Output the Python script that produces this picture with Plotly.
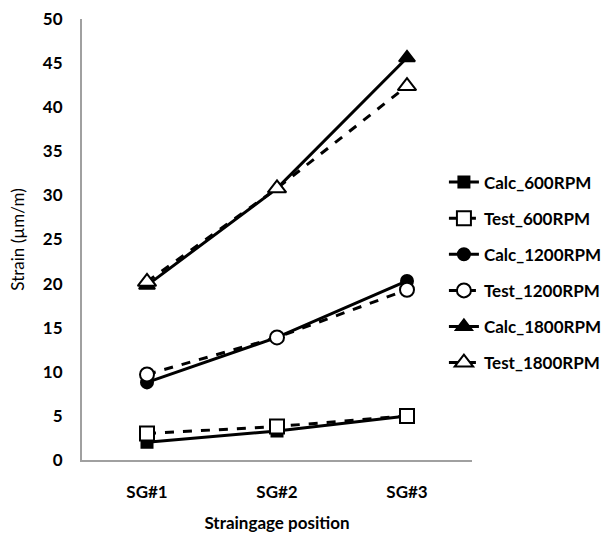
import plotly.graph_objects as go

categories = ["SG#1", "SG#2", "SG#3"]
calc_600 = [2.0, 3.3, 5.0]
test_600 = [3.0, 3.8, 5.0]
calc_1200 = [8.8, 13.9, 20.3]
test_1200 = [9.7, 13.9, 19.3]
calc_1800 = [19.8, 30.8, 45.6]
test_1800 = [20.2, 30.8, 42.4]
y_ticks = [0, 5, 10, 15, 20, 25, 30, 35, 40, 45, 50]

series = [
    ("Calc_600RPM", calc_600, "square", "black", "solid", 11),
    ("Test_600RPM", test_600, "square", "white", "dash", 14),
    ("Calc_1200RPM", calc_1200, "circle", "black", "solid", 12),
    ("Test_1200RPM", test_1200, "circle", "white", "dash", 14),
    ("Calc_1800RPM", calc_1800, "triangle-up", "black", "solid", 14),
    ("Test_1800RPM", test_1800, "triangle-up", "white", "dash", 16),
]

FONT = "Lato"
fig = go.Figure()
for i, (name, vals, sym, fill, dash, size) in enumerate(series):
    fig.add_trace(go.Scatter(
        x=categories, y=vals, name=name, mode="lines+markers",
        line=dict(color="black", width=3, dash=dash),
        marker=dict(symbol=sym, size=size, color=fill,
                    line=dict(color="black", width=2)),
        legendgroup=f"g{i}",
    ))

fig.update_layout(
    width=606, height=533,
    margin=dict(l=82, r=134, t=19, b=73, autoexpand=False),
    paper_bgcolor="white", plot_bgcolor="white",
    font=dict(family=FONT, color="black"),
    showlegend=True,
    legend=dict(x=0.928, xanchor="left", y=0.67, yanchor="top",
                font=dict(family=FONT, size=17, color="black", weight="bold"),
                tracegroupgap=11, bgcolor="rgba(0,0,0,0)"),
    xaxis=dict(type="category", range=[-0.5, 2.5], showgrid=False,
               showline=True, linecolor="#a0a0a0", linewidth=2,
               ticks="", ticklabelstandoff=16, automargin=False,
               tickfont=dict(family=FONT, size=17, color="black", weight="bold"),
               title=dict(text="Straingage position", standoff=16,
                          font=dict(family=FONT, size=17, color="black", weight="bold"))),
    yaxis=dict(range=[0, 50], tickvals=y_ticks, showgrid=False, zeroline=False,
               showline=True, linecolor="#a0a0a0", linewidth=2,
               ticks="", ticklabelstandoff=14, automargin=False,
               tickfont=dict(family=FONT, size=17, color="black", weight="bold"),
               title=dict(text="Strain (µm/m)", standoff=14,
                          font=dict(family=FONT, size=17, color="black"))),
)

fig.write_html("out.html")
